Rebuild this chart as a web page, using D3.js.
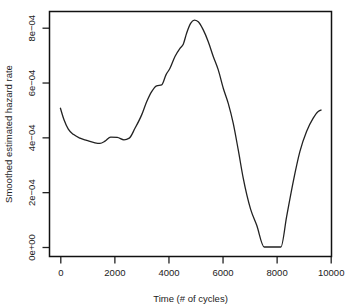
<!DOCTYPE html>
<html>
<head>
<meta charset="utf-8">
<script src="https://cdn.jsdelivr.net/npm/d3@7"></script>
<style>
  body { margin: 0; background: #fff; }
  svg text { font-family: "Liberation Sans", Arial, sans-serif; fill: #222; }
</style>
</head>
<body>
<svg id="chart" width="347" height="308"></svg>
<script>
// time in cycles and smoothed hazard
const times = [0, 137, 296, 481, 728, 976, 1283, 1468, 1653, 1863, 2107, 2355, 2551, 2762,
    3009, 3194, 3379, 3564, 3749, 3908, 4056, 4241, 4426, 4548, 4671, 4819, 4954, 5102,
    5287, 5472, 5657, 5842, 6027, 6211, 6396, 6581, 6765, 7037, 7261, 7541, 8159, 8370,
    8613, 8860, 9107, 9353, 9538, 9661];
const hazard = [5.08, 4.64, 4.30, 4.11, 3.97, 3.89, 3.80, 3.78, 3.86, 4.01, 4.00, 3.91, 3.97, 4.33,
    4.82, 5.30, 5.67, 5.88, 5.91, 6.28, 6.52, 6.95, 7.25, 7.40, 7.80, 8.16, 8.28, 8.22,
    7.92, 7.49, 6.95, 6.46, 5.79, 5.24, 4.51, 3.54, 2.51, 1.38, 0.80, 0, 0, 1.11,
    2.38, 3.48, 4.21, 4.70, 4.94, 5.00].map(v => v * 1e-4);
const xTicks = [0, 2000, 4000, 6000, 8000, 10000];
const yTicks = [0, 2e-4, 4e-4, 6e-4, 8e-4];
const yTickLabels = ["0e+00", "2e\u221204", "4e\u221204", "6e\u221204", "8e\u221204"];

const svg = d3.select("#chart");
const box = { left: 49.5, right: 331.5, top: 11.5, bottom: 256.5 };

const x = d3.scaleLinear().domain([0, 10000]).range([60.3, 330.7]);
const y = d3.scaleLinear().domain([0, 8e-4]).range([247, 27.7]);

// x axis
const xAxis = svg.append("g")
    .attr("transform", `translate(0,${box.bottom})`)
    .call(d3.axisBottom(x).tickValues(xTicks).tickSize(7).tickPadding(6)
        .tickFormat(d3.format("d")).tickSizeOuter(0));
xAxis.select(".domain").remove();
xAxis.selectAll("line").attr("stroke", "#222").attr("stroke-width", 1.3);
xAxis.selectAll("text").attr("font-size", "9.5px").attr("fill", "#222")
    .attr("font-family", "Liberation Sans, Arial, sans-serif");

// y axis, labels turned like R's default
const yAxis = svg.append("g")
    .attr("transform", `translate(${box.left},0)`)
    .call(d3.axisLeft(y).tickValues(yTicks).tickSize(7).tickSizeOuter(0)
        .tickFormat((d, i) => yTickLabels[i]));
yAxis.select(".domain").remove();
yAxis.selectAll("line").attr("stroke", "#222").attr("stroke-width", 1.3);
yAxis.selectAll("text")
    .attr("font-size", "9.5px").attr("fill", "#222")
    .attr("font-family", "Liberation Sans, Arial, sans-serif")
    .attr("x", null).attr("dy", null)
    .attr("text-anchor", "middle")
    .attr("transform", "translate(-15,0) rotate(-90)");

// axis titles
svg.append("text")
    .attr("x", (box.left + box.right) / 2).attr("y", 302)
    .attr("text-anchor", "middle").attr("font-size", "9.5px")
    .text("Time (# of cycles)");
svg.append("text")
    .attr("transform", `translate(12,${(box.top + box.bottom) / 2}) rotate(-90)`)
    .attr("text-anchor", "middle").attr("font-size", "9.5px")
    .text("Smoothed estimated hazard rate");

// the curve
const line = d3.line()
    .x((d, i) => x(times[i]))
    .y(d => y(d))
    .curve(d3.curveMonotoneX);

svg.append("path")
    .datum(hazard)
    .attr("d", line)
    .attr("fill", "none")
    .attr("stroke", "#222")
    .attr("stroke-width", 1.3);

// plot frame, drawn last
svg.append("rect")
    .attr("x", box.left).attr("y", box.top)
    .attr("width", box.right - box.left).attr("height", box.bottom - box.top)
    .attr("fill", "none").attr("stroke", "#111").attr("stroke-width", 1.5);
</script>
</body>
</html>
